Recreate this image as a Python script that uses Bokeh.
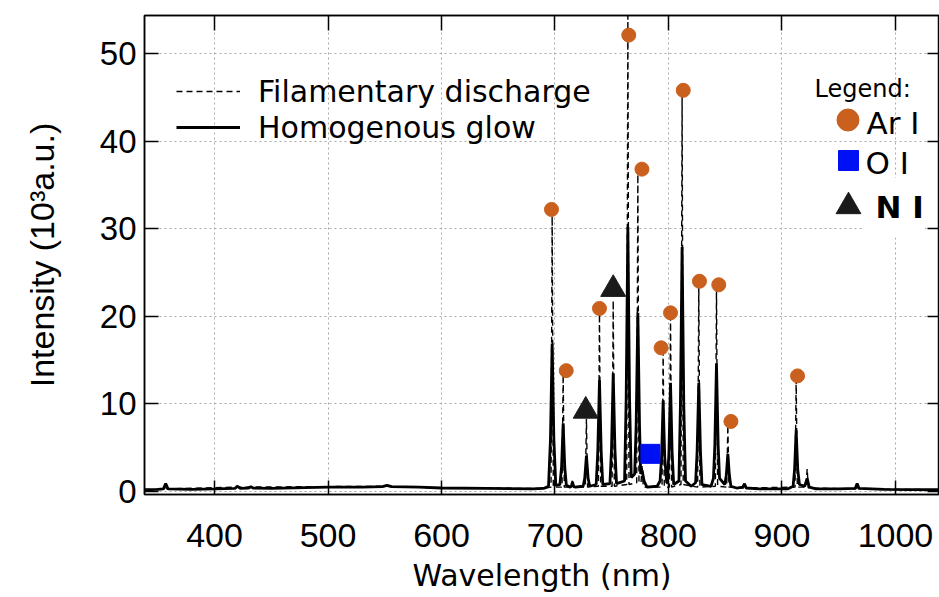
from bokeh.plotting import figure
from bokeh.models import (Range1d, LinearAxis, Legend, LegendItem, Label,
                          FixedTicker, BoxAnnotation)
from bokeh.embed import file_html
from bokeh.resources import INLINE

# ---------------- data ----------------
# Homogenous glow spectrum (solid line): wavelength (nm), intensity (10^3 a.u.)
glow_wl = [338, 350, 355, 357, 359, 380, 400, 418, 420, 423, 430, 432, 434, 450,
           480, 500, 530, 548, 552, 556, 580, 600, 640, 680, 690,
           694.3, 696.0, 697.5, 699.0, 700.7,
           704.3, 705.8, 707.2, 708.6, 710.0,
           713.3, 714.4, 715.4, 716.4, 717.6,
           724.8, 726.2, 727.7, 729.2, 730.6,
           736.3, 737.7, 739.2, 740.7, 742.1,
           748.4, 749.8, 751.3, 752.8, 754.2,
           761.3, 762.7, 764.2, 765.7, 767.2,
           770.2, 771.5, 773.0, 774.5, 775.5, 776.8, 778.5, 781.0,
           790.0, 792.6, 793.9, 795.3, 796.7, 798.4,
           799.1, 800.4, 801.8, 803.2, 804.6,
           809.2, 810.5, 812.0, 813.5, 815.0,
           820.0, 823.9, 825.2, 826.7, 828.2, 829.5,
           837.5, 839.6, 840.8, 842.3, 843.8, 845.0,
           849.6, 850.9, 852.3, 853.7, 855.0,
           860.0, 865.5, 867.0, 868.5, 880.0, 905.0,
           909.8, 911.1, 912.5, 913.9, 915.4,
           920.0, 922.2, 924.0, 930.0, 950.0,
           964.5, 966.2, 968.0, 990.0, 1039.0]
glow_int = [0.2, 0.25, 0.3, 0.9, 0.3, 0.25, 0.3, 0.35, 0.6, 0.35, 0.4, 0.55, 0.4, 0.35,
            0.45, 0.5, 0.5, 0.55, 0.7, 0.55, 0.5, 0.4, 0.35, 0.3, 0.35,
            0.6, 6.0, 16.9, 6.0, 0.7,
            0.8, 2.8, 7.8, 2.8, 0.7,
            0.5, 0.6, 1.1, 0.6, 0.5,
            0.6, 1.5, 4.1, 1.5, 0.6,
            0.8, 4.6, 12.7, 4.6, 0.8,
            0.9, 4.9, 13.5, 4.9, 0.9,
            1.2, 10.5, 30.2, 10.5, 1.6,
            2.0, 7.5, 20.4, 7.5, 2.0, 2.4, 1.2, 0.5,
            0.6, 1.2, 3.9, 10.4, 3.9, 1.0,
            1.0, 4.5, 12.4, 4.5, 0.8,
            1.2, 9.8, 27.9, 9.8, 1.2,
            0.6, 1.0, 4.5, 12.4, 4.5, 0.8,
            0.6, 1.5, 5.2, 14.6, 5.2, 1.5,
            0.8, 1.8, 4.3, 1.8, 0.6,
            0.4, 0.5, 0.9, 0.4, 0.3, 0.3,
            0.6, 2.5, 7.0, 2.5, 0.8,
            0.6, 1.5, 0.5, 0.3, 0.3,
            0.35, 0.9, 0.35, 0.25, 0.2]

# Filamentary discharge spectrum (dashed line)
fil_wl = [338, 356, 357, 358, 420, 550, 600, 690,
          696.5, 697.5, 698.5,
          706.2, 707.2, 708.2,
          714.6, 715.4, 716.2,
          726.7, 727.7, 728.7,
          738.2, 739.2, 740.2,
          750.3, 751.3, 752.3,
          763.2, 764.2, 765.2,
          772.0, 773.0, 774.0,
          775.8, 776.8, 777.8,
          794.3, 795.3, 796.3,
          800.8, 801.8, 802.8,
          811.0, 812.0, 813.0,
          825.7, 826.7, 827.7,
          841.3, 842.3, 843.3,
          851.3, 852.3, 853.3,
          866.0, 867.0, 868.0,
          911.5, 912.5, 913.5,
          921.2, 922.2, 923.2,
          965.2, 966.2, 967.2, 1039.0]
fil_int = [0.2, 0.3, 0.9, 0.3, 0.5, 0.6, 0.4, 0.35,
           0.5, 32.0, 0.5,
           0.5, 13.4, 0.5,
           0.5, 1.4, 0.5,
           0.5, 8.3, 0.5,
           0.6, 20.3, 0.6,
           0.6, 21.8, 0.6,
           0.8, 54.3, 0.8,
           1.0, 36.2, 1.0,
           1.0, 3.0, 0.5,
           0.5, 15.9, 0.5,
           0.5, 19.9, 0.5,
           0.8, 45.2, 0.8,
           0.5, 23.5, 0.5,
           0.6, 23.1, 0.6,
           0.5, 7.6, 0.5,
           0.4, 0.9, 0.4,
           0.5, 12.8, 0.5,
           0.5, 2.6, 0.4,
           0.3, 0.9, 0.3, 0.2]

# Line identifications (marker positions)
ar_wl = [696.9, 709.9, 739.2, 765.0, 776.6, 793.5, 801.8, 813.0, 827.3, 844.3, 855.0, 913.7]
ar_int = [32.2, 13.8, 20.9, 52.1, 36.8, 16.4, 20.4, 45.8, 24.0, 23.6, 8.0, 13.2]
o_wl = [784.1]
o_int = [4.3]
n_wl = [727.1, 751.3]
n_int = [9.2, 23.1]

x_ticks = [400, 500, 600, 700, 800, 900, 1000]
y_ticks = [0, 10, 20, 30, 40, 50]

ORANGE = "#C9601D"
BLUE = "#0010F5"
DARK = "#1A1A1A"

# ---------------- figure ----------------
p = figure(width=939, height=597, output_backend="svg", toolbar_location=None,
           x_range=Range1d(338.3, 1038.8), y_range=Range1d(-0.34, 54.34),
           min_border_left=144, min_border_right=0, min_border_top=15,
           min_border_bottom=103, background_fill_color="white",
           border_fill_color="white")
p.outline_line_color = "black"
p.outline_line_width = 1.5

for g, t in ((p.xgrid, x_ticks), (p.ygrid, y_ticks)):
    g.ticker = FixedTicker(ticks=t)
    g.grid_line_color = "#A8A8A8"
    g.grid_line_dash = "2 3"
    g.grid_line_width = 1

# white patch behind the "N I" legend entry
p.add_layout(BoxAnnotation(left=970.9, right=1026.0, bottom=29.0, top=35.8,
                           fill_color="white", fill_alpha=1.0, line_color=None,
                           level="underlay"))

r_fil = p.line(fil_wl, fil_int, line_color="black", line_width=1.4, line_dash="6 4")
r_glow = p.line(glow_wl, glow_int, line_color="black", line_width=2.8)

r_ar = p.scatter(ar_wl, ar_int, marker="circle", size=14, fill_color=ORANGE,
                 line_color=ORANGE)
r_o = p.scatter(o_wl, o_int, marker="square", size=19, fill_color=BLUE,
                line_color=BLUE)
r_n = p.scatter(n_wl, n_int, marker="triangle", size=25, fill_color=DARK,
                line_color=DARK)

# ---------------- axes ----------------
xa = p.xaxis[0]
xa.ticker = FixedTicker(ticks=x_ticks)
xa.axis_label = "Wavelength (nm)"
xa.axis_label_text_font = "DejaVu Sans"
xa.axis_label_text_font_size = "30px"
xa.axis_label_text_font_style = "normal"
xa.axis_label_standoff = 8
xa.major_label_text_font = "Liberation Sans Narrow, Liberation Sans"
xa.major_label_text_font_size = "34px"
xa.major_label_standoff = 29

ya = p.yaxis[0]
ya.ticker = FixedTicker(ticks=y_ticks)
ya.axis_label = "Intensity (10³a.u.)"
ya.axis_label_text_font = "Liberation Sans"
ya.axis_label_text_font_size = "34px"
ya.axis_label_text_font_style = "normal"
ya.axis_label_standoff = 36
ya.major_label_text_font = "Liberation Sans"
ya.major_label_text_font_size = "33px"
ya.major_label_standoff = 8

for ax in (xa, ya):
    ax.axis_line_color = "black"
    ax.axis_line_width = 1.5
    ax.major_tick_in = 14
    ax.major_tick_out = 0
    ax.major_tick_line_width = 1.5
    ax.minor_tick_in = 0
    ax.minor_tick_out = 0
    ax.major_label_text_color = "black"
    ax.axis_label_text_color = "black"

# mirrored tick marks on top and right (no labels)
top = LinearAxis(ticker=FixedTicker(ticks=x_ticks), major_label_text_font_size="1px",
                 major_label_text_color=None, major_label_standoff=0,
                 major_tick_in=15, major_tick_out=0, minor_tick_in=0,
                 minor_tick_out=0, axis_line_width=1.5, major_tick_line_width=1.5)
right = LinearAxis(ticker=FixedTicker(ticks=y_ticks), major_label_text_font_size="1px",
                   major_label_text_color=None, major_label_standoff=0,
                   major_tick_in=12, major_tick_out=0, minor_tick_in=0,
                   minor_tick_out=0, axis_line_width=1.5, major_tick_line_width=1.5)
p.add_layout(top, "above")
p.add_layout(right, "right")

# ---------------- legends ----------------
leg_lines = Legend(items=[LegendItem(label="Filamentary discharge", renderers=[r_fil]),
                          LegendItem(label="Homogenous glow", renderers=[r_glow])],
                   location=(32, 349), orientation="vertical",
                   glyph_width=64, glyph_height=36, label_height=36,
                   label_standoff=18, spacing=0, padding=0, margin=0,
                   border_line_color=None, background_fill_alpha=0,
                   label_text_font="DejaVu Sans", label_text_font_size="30px",
                   label_text_color="black")
p.add_layout(leg_lines)


def marker_key(label, renderer, loc, box):
    # legend glyph only; its text is drawn by a Label placed next to the symbol
    return Legend(items=[LegendItem(label=label, renderers=[renderer])],
                  location=loc, glyph_width=box, glyph_height=box,
                  label_height=box, label_standoff=0, spacing=0,
                  padding=0, margin=0, border_line_color=None,
                  background_fill_alpha=0, label_text_font_size="1px",
                  label_text_color=None)


p.add_layout(marker_key("Ar I", r_ar, (676, 347), 55))
p.add_layout(marker_key("O I", r_o, (679, 309), 50))
p.add_layout(marker_key("N I", r_n, (673, 257), 62))

for txt, lx, ly, style in (("Ar I", 722, 372, "normal"),
                           ("O I", 721, 332, "normal"),
                           ("N I", 731, 288, "bold")):
    p.add_layout(Label(x=lx, y=ly, x_units="screen", y_units="screen", text=txt,
                       text_font="DejaVu Sans", text_font_size="31px",
                       text_font_style=style, text_baseline="middle",
                       text_color="black"))

p.add_layout(Label(x=670, y=406, x_units="screen", y_units="screen", text="Legend:",
                   text_font="DejaVu Sans", text_font_size="24px",
                   text_baseline="alphabetic", text_color="black"))

open("out.html", "w").write(file_html(p, INLINE))
